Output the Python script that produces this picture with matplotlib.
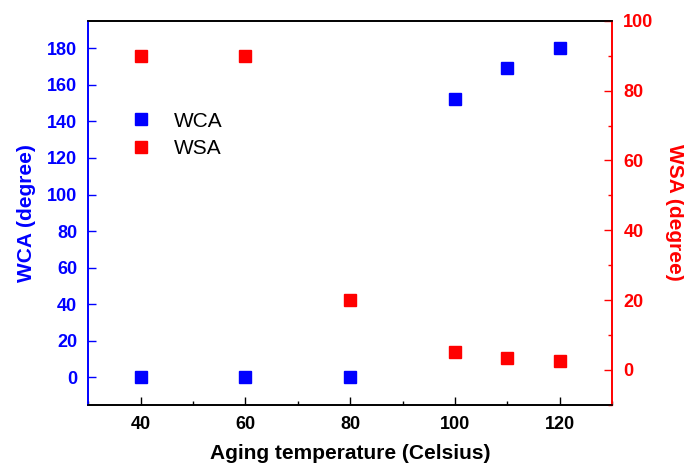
import matplotlib
matplotlib.use('Agg')
import matplotlib.pyplot as plt
from matplotlib.ticker import MultipleLocator

plt.rcParams['font.family'] = ['Liberation Sans', 'DejaVu Sans']

temps = [40, 60, 80, 100, 110, 120]
wca = [0, 0, 0, 152, 169, 180]
wsa = [90, 90, 20, 5.2, 3.3, 2.5]

fig, ax = plt.subplots(figsize=(6.84, 4.73), dpi=100)
fig.subplots_adjust(left=0.129, right=0.895, top=0.956, bottom=0.144)
ax2 = ax.twinx()

h1, = ax.plot(temps, wca, 's', color='#0000ff', markersize=8, label='WCA', zorder=3)
h2, = ax2.plot(temps, wsa, 's', color='#ff0000', markersize=8, label='WSA', zorder=3)

ax.set_xlim(30, 130)
ax.set_ylim(-15, 195)
ax2.set_ylim(-10, 100)

ax.xaxis.set_major_locator(MultipleLocator(20))
ax.xaxis.set_minor_locator(MultipleLocator(10))
ax.yaxis.set_major_locator(MultipleLocator(20))
ax.yaxis.set_minor_locator(MultipleLocator(20))
ax2.yaxis.set_major_locator(MultipleLocator(20))
ax2.yaxis.set_minor_locator(MultipleLocator(10))

ax.tick_params(axis='x', which='both', direction='in', top=False, labelsize=13, pad=8)
ax.tick_params(axis='x', which='major', length=6, width=1)
ax.tick_params(axis='x', which='minor', length=3, width=1)
ax.tick_params(axis='y', which='major', direction='in', length=6, width=1,
               colors='#0000ff', labelsize=13, pad=8)
ax.tick_params(axis='y', which='minor', length=0)
ax2.tick_params(axis='y', which='major', direction='in', length=6, width=1,
                colors='#ff0000', labelsize=13, pad=8)
ax2.tick_params(axis='y', which='minor', direction='in', length=3, width=1, colors='#ff0000')

for lab in ax.get_xticklabels() + ax.get_yticklabels() + ax2.get_yticklabels():
    lab.set_fontweight('bold')

ax2.spines['left'].set_color('#0000ff')
ax2.spines['right'].set_color('#ff0000')
ax.spines['left'].set_color('#0000ff')
ax.spines['right'].set_color('#ff0000')
for a in (ax, ax2):
    for s in a.spines.values():
        s.set_linewidth(1.2)

ax.set_xlabel('Aging temperature (Celsius)', fontsize=15, fontweight='bold', labelpad=8)
ax.set_ylabel('WCA (degree)', fontsize=15, fontweight='bold', color='#0000ff', labelpad=8)
ax2.set_ylabel('WSA (degree)', fontsize=15, fontweight='bold', color='#ff0000',
               rotation=270, labelpad=22)

ax.legend([h1, h2], ['WCA', 'WSA'], loc='upper left', bbox_to_anchor=(0.065, 0.785),
          frameon=False, fontsize=15, handlelength=1.0, handletextpad=1.1,
          labelspacing=0.42, borderaxespad=0)

fig.savefig('out.png', dpi=100)
